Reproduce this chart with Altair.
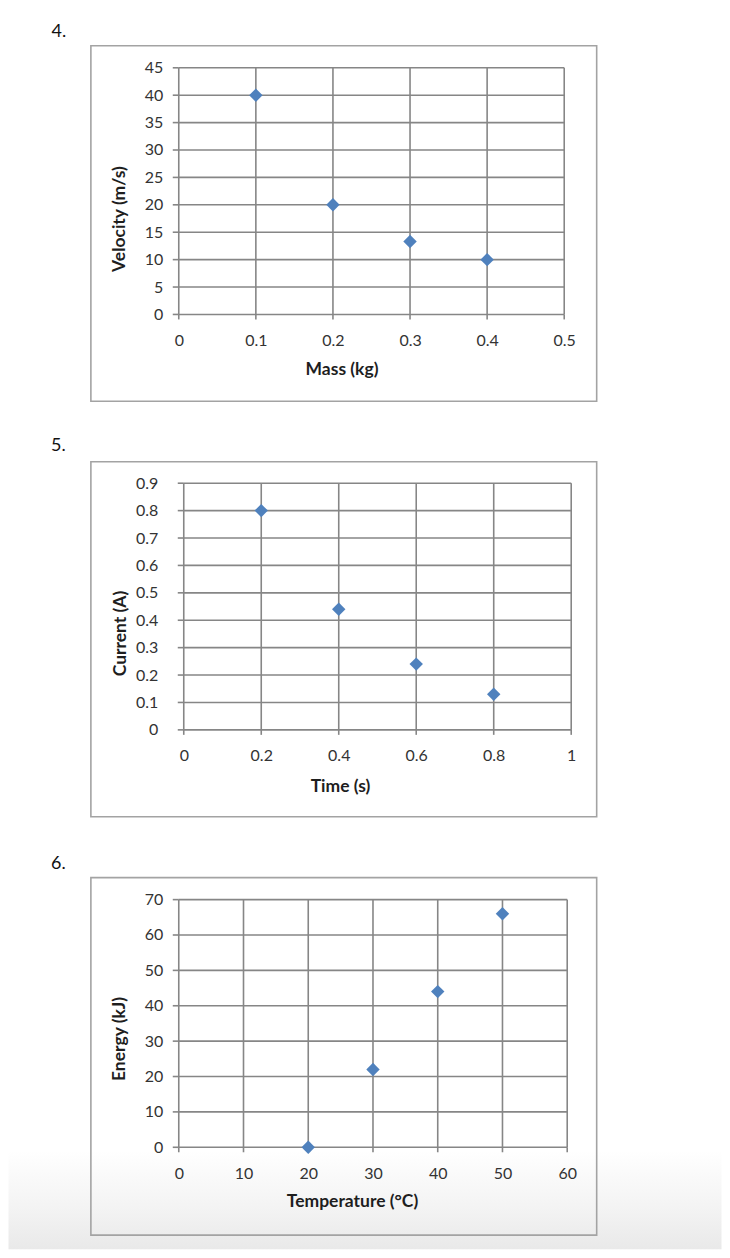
import altair as alt
import pandas as pd

# ---------------- data ----------------
mass_kg = [0.1, 0.2, 0.3, 0.4]
velocity_ms = [40, 20, 13.3, 10]
mass_ticks = [0, 0.1, 0.2, 0.3, 0.4, 0.5]
velocity_ticks = [0, 5, 10, 15, 20, 25, 30, 35, 40, 45]

time_s = [0.2, 0.4, 0.6, 0.8]
current_a = [0.8, 0.44, 0.24, 0.13]
time_ticks = [0, 0.2, 0.4, 0.6, 0.8, 1]
current_ticks = [0, 0.1, 0.2, 0.3, 0.4, 0.5, 0.6, 0.7, 0.8, 0.9]

temperature_c = [20, 30, 40, 50]
energy_kj = [0, 22, 44, 66]
temperature_ticks = [0, 10, 20, 30, 40, 50, 60]
energy_ticks = [0, 10, 20, 30, 40, 50, 60, 70]

# ---------------- style ----------------
FONT = "Lato"
GRID = "#868686"
FRAME = "#a3a3a3"
BLUE = "#4f81bd"
LABEL = "#333333"
TITLE = "#1e1e1e"
O = 178.5  # common group origin (page x)

# page geometry of each panel (plot left/right/top, height, frame, labels)
G4 = dict(L=178.5, R=564.5, T=66, H=247, frame=(90.5, 44, 597, 400), num=(58.5, 29),
          yt=(118, 217), xt=(341.5, 367), mk=(8, 420))
G5 = dict(L=183.5, R=571.5, T=483, H=247, frame=(90.5, 461.5, 597, 817), num=(58, 445),
          yt=(119.5, 633), xt=(340, 786), mk=(423, 840))
G6 = dict(L=178.5, R=567.5, T=899, H=248, frame=(90.5, 877, 597, 1235), num=(58, 862),
          yt=(118, 1038), xt=(352, 1200.5), mk=(841, 1249))


def one():
    return pd.DataFrame({"k": [0]})


def panel(num, xs, ys, xticks, yticks, xtitle, ytitle, g, gradient=False):
    T, H = g["T"], g["H"]
    x0, x1 = g["L"] - O, g["R"] - O
    W = x1
    xscale = alt.Scale(domain=[xticks[0], xticks[-1]], range=[x0, x1], nice=False, zero=False)
    yscale = alt.Scale(domain=[yticks[0], yticks[-1]], nice=False, zero=False)
    xaxis = alt.Axis(values=xticks, format="~r", grid=False, domain=False, ticks=False,
                     tickSize=0, labelPadding=18, labelFlush=False, labelOverlap=False,
                     labelFont=FONT, labelFontSize=16, labelColor=LABEL,
                     title=xtitle, titleFont=FONT, titleFontSize=17.5, titleFontWeight="bold",
                     titleColor=TITLE, titleX=g["xt"][0] - O, titleY=g["xt"][1] - (T + H) + 1,
                     titleAlign="center", titleBaseline="middle", titleAngle=0, zindex=1)
    yaxis = alt.Axis(values=yticks, format="~r", grid=False, domain=False, ticks=False,
                     tickSize=0, labelPadding=16 + x0, labelFlush=False, labelOverlap=False,
                     labelFont=FONT, labelFontSize=16, labelColor=LABEL,
                     title=ytitle, titleFont=FONT, titleFontSize=17.5, titleFontWeight="bold",
                     titleColor=TITLE, titleX=g["yt"][0] - O + 1, titleY=g["yt"][1] - T,
                     titleAlign="center", titleBaseline="middle", titleAngle=270, zindex=1)
    X = alt.X("x:Q", scale=xscale, axis=xaxis)
    Y = alt.Y("y:Q", scale=yscale, axis=yaxis)

    xg = pd.DataFrame({"x": xticks})
    yg = pd.DataFrame({"y": yticks})
    pts = pd.DataFrame({"x": xs, "y": ys})

    layers = []
    if gradient:
        layers.append(
            alt.Chart(one()).mark_rect(
                fill=alt.LinearGradient(
                    gradient="linear",
                    stops=[alt.GradientStop(color="#ffffff", offset=0),
                           alt.GradientStop(color="#f3f3f3", offset=0.6),
                           alt.GradientStop(color="#e9e9e9", offset=1)],
                    x1=0, x2=0, y1=0, y2=1)
            ).encode(x=alt.value(8 - O), x2=alt.value(722 - O),
                     y=alt.value(1150 - T), y2=alt.value(1249 - T))
        )
    layers += [
        alt.Chart(xg).mark_rule(color=GRID, strokeWidth=1.6).encode(
            x=X, y=alt.value(0), y2=alt.value(H)),
        alt.Chart(yg).mark_rule(color=GRID, strokeWidth=1.6).encode(
            y=Y, x=alt.value(x0), x2=alt.value(x1)),
        alt.Chart(xg).mark_rule(color=GRID, strokeWidth=1.6).encode(
            x=X, y=alt.value(H), y2=alt.value(H + 5)),
        alt.Chart(yg).mark_rule(color=GRID, strokeWidth=1.6).encode(
            y=Y, x=alt.value(x0 - 6), x2=alt.value(x0)),
        alt.Chart(one()).mark_rect(filled=False, color=FRAME, strokeWidth=1.6).encode(
            x=alt.value(g["frame"][0] - O), x2=alt.value(g["frame"][2] - O),
            y=alt.value(g["frame"][1] - T), y2=alt.value(g["frame"][3] - T)),
        alt.Chart(pts).mark_point(shape="diamond", filled=True, size=180, color=BLUE,
                                  opacity=1).encode(x=X, y=Y),
        alt.Chart(one()).mark_text(text=num, font=FONT, fontSize=18, color="#111111",
                                   align="center", baseline="middle").encode(
            x=alt.value(g["num"][0] - O), y=alt.value(g["num"][1] - T + 1)),
        alt.Chart(one()).mark_rule(color="#ffffff", strokeWidth=0.01).encode(
            x=alt.value(8 - O), y=alt.value(g["mk"][0] - T), y2=alt.value(g["mk"][1] - T)),
    ]
    return alt.layer(*layers).properties(width=W, height=H)


p4 = panel("4.", mass_kg, velocity_ms, mass_ticks, velocity_ticks,
           "Mass (kg)", "Velocity (m/s)", G4)
p5 = panel("5.", time_s, current_a, time_ticks, current_ticks,
           "Time (s)", "Current (A)", G5)
p6 = panel("6.", temperature_c, energy_kj, temperature_ticks, energy_ticks,
           "Temperature (°C)", "Energy (kJ)", G6, gradient=True)

chart = alt.concat(p4, p5, p6, columns=1, spacing=0).properties(
    align="none", bounds="full",
    padding={"left": 0, "top": 0, "right": 0, "bottom": 0},
    background="white"
).configure_view(strokeWidth=0)

chart.save("out.html", embed_options={"renderer": "svg", "actions": False})
